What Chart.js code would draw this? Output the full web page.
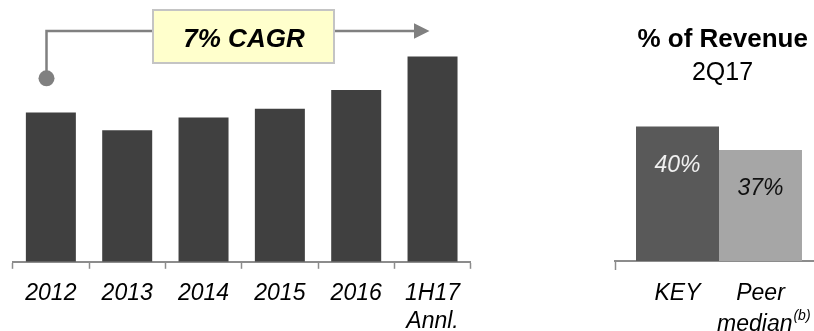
<!DOCTYPE html>
<html>
<head>
<meta charset="utf-8">
<script src="https://cdn.jsdelivr.net/npm/chart.js@4.4.1/dist/chart.umd.min.js"></script>
<style>
  html, body { margin: 0; padding: 0; background: #fff; overflow: hidden; width: 814px; height: 331px; }
  #wrap { position: relative; width: 814px; height: 331px; overflow: hidden; }
  #trend { position: absolute; left: 0; top: 0; }
  #share { position: absolute; left: 600px; top: 0; }
</style>
</head>
<body>
<div id="wrap">
  <canvas id="trend" width="480" height="349"></canvas>
  <canvas id="share" width="240" height="331"></canvas>
</div>
<script>
// left panel: revenue trend (no axis values shown, relative units)
const years = ['2012', '2013', '2014', '2015', '2016', ['1H17', 'Annl.']];
const revenue = [1.52, 1.34, 1.47, 1.56, 1.75, 2.09];
const cagrLabel = '7% CAGR';

// right panel: share of revenue
const shareNames = ['KEY', 'Peer'];
const shareValues = [40, 37];
const shareTitle = '% of Revenue';
const sharePeriod = '2Q17';

const FONT = '"Liberation Sans", Arial, sans-serif';
const AXIS_GREY = '#8c8c8c';
const shareColors = ['#595959', '#a6a6a6'];
const shareTextColors = ['#f0f0f0', '#111111'];

const cagrPlugin = {
  id: 'cagr',
  afterDraw(chart) {
    const c = chart.ctx;
    c.save();
    // connector
    c.strokeStyle = '#808080';
    c.lineWidth = 2.5;
    c.beginPath();
    c.moveTo(46.5, 78);
    c.lineTo(46.5, 31);
    c.lineTo(152, 31);
    c.moveTo(335, 31);
    c.lineTo(416, 31);
    c.stroke();
    c.fillStyle = '#808080';
    c.beginPath();
    c.moveTo(414, 23.3);
    c.lineTo(429.5, 31);
    c.lineTo(414, 38.7);
    c.closePath();
    c.fill();
    c.beginPath();
    c.arc(46.5, 78.3, 8, 0, Math.PI * 2);
    c.fill();
    // box
    c.fillStyle = '#ffffcc';
    c.fillRect(152, 9, 183, 55);
    c.strokeStyle = '#c4c4c4';
    c.lineWidth = 2;
    c.strokeRect(153, 10, 181, 53);
    c.fillStyle = '#000';
    c.font = 'italic bold 26px ' + FONT;
    c.textAlign = 'center';
    c.textBaseline = 'alphabetic';
    c.fillText(cagrLabel, 244, 46.7);
    c.restore();
  }
};

const shareLabels = {
  id: 'shareLabels',
  afterDraw(chart) {
    const c = chart.ctx;
    c.save();
    c.textAlign = 'center';
    c.textBaseline = 'alphabetic';
    c.fillStyle = '#000';
    c.font = 'bold 26px ' + FONT;
    c.fillText(shareTitle, 122.7, 46.7);
    c.font = '25px ' + FONT;
    c.fillText(sharePeriod, 122.5, 79.5);

    chart.data.datasets.forEach((ds, i) => {
      const bar = chart.getDatasetMeta(i).data[0];
      c.font = 'italic 23px ' + FONT;
      c.fillStyle = shareTextColors[i];
      c.fillText(ds.data[0] + '%', bar.x, bar.y + 45.5);
      c.fillStyle = '#000';
      c.fillText(ds.label, bar.x, 299.5);
    });

    // second line under the peer bar, with a superscript note
    const peer = chart.getDatasetMeta(1).data[0];
    c.textAlign = 'left';
    c.font = 'italic 23px ' + FONT;
    const w1 = c.measureText('median').width;
    c.font = 'italic 14px ' + FONT;
    const w2 = c.measureText('(b)').width;
    const x0 = peer.x + 2.8 - (w1 + w2) / 2;
    c.font = 'italic 23px ' + FONT;
    c.fillText('median', x0, 330.5);
    c.font = 'italic 14px ' + FONT;
    c.fillText('(b)', x0 + w1 + 1, 320);
    c.restore();
  }
};

new Chart(document.getElementById('trend'), {
  type: 'bar',
  data: {
    labels: years,
    datasets: [{
      data: revenue,
      backgroundColor: '#404040',
      barPercentage: 1,
      categoryPercentage: 0.655
    }]
  },
  options: {
    responsive: false,
    animation: false,
    layout: { padding: { left: 12.7, right: 9.3, top: 36, bottom: 2 } },
    plugins: { legend: { display: false }, tooltip: { enabled: false } },
    scales: {
      x: {
        grid: { drawOnChartArea: false, tickLength: 7, tickColor: AXIS_GREY, tickWidth: 1.5 },
        border: { color: AXIS_GREY, width: 2 },
        ticks: {
          color: '#000',
          padding: 11.5,
          maxRotation: 0,
          autoSkip: false,
          font: { family: FONT, size: 23, style: 'italic', lineHeight: 1.2 }
        }
      },
      y: { display: false, min: 0, max: 2.30 }
    }
  },
  plugins: [cagrPlugin]
});

new Chart(document.getElementById('share'), {
  type: 'bar',
  data: {
    labels: [''],
    datasets: shareValues.map((v, i) => ({
      label: shareNames[i],
      data: [v],
      backgroundColor: shareColors[i],
      barPercentage: 1,
      categoryPercentage: 0.798
    }))
  },
  options: {
    responsive: false,
    animation: false,
    layout: { padding: { left: 15, right: 17, top: 100, bottom: 61 } },
    plugins: { legend: { display: false }, tooltip: { enabled: false } },
    scales: {
      x: {
        grid: { drawOnChartArea: false, tickLength: 9, tickColor: AXIS_GREY, tickWidth: 1.5 },
        border: { color: AXIS_GREY, width: 2 },
        ticks: { display: false }
      },
      y: { display: false, min: 22.7, max: 43.42 }
    }
  },
  plugins: [shareLabels]
});
</script>
</body>
</html>
